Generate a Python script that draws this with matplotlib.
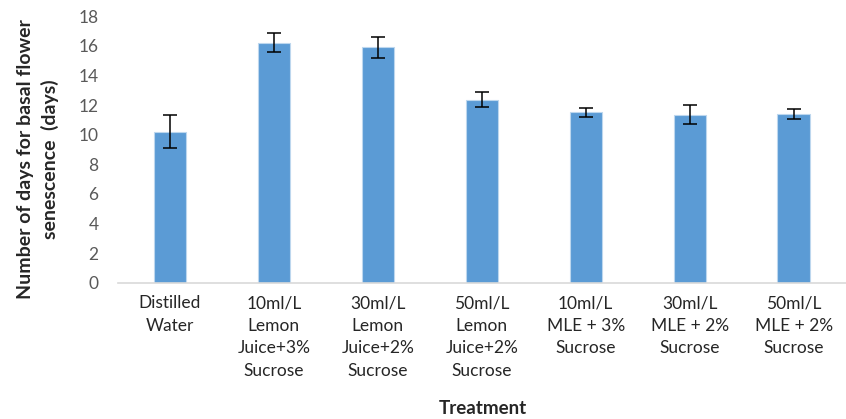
import matplotlib.pyplot as plt
import numpy as np

plt.rcParams['font.family'] = ['Lato', 'DejaVu Sans']

treatments = ["Distilled\nWater",
              "10ml/L\nLemon\nJuice+3%\nSucrose",
              "30ml/L\nLemon\nJuice+2%\nSucrose",
              "50ml/L\nLemon\nJuice+2%\nSucrose",
              "10ml/L\nMLE + 3%\nSucrose",
              "30ml/L\nMLE + 2%\nSucrose",
              "50ml/L\nMLE + 2%\nSucrose"]
days = [10.2, 16.2, 15.9, 12.35, 11.5, 11.35, 11.4]
err = [1.1, 0.65, 0.7, 0.5, 0.3, 0.65, 0.35]

fig = plt.figure(figsize=(8.46, 4.19), dpi=100)
ax = fig.add_axes([0.1395, 0.3246, 0.86, 0.6372])

x = np.arange(len(days))
ax.bar(x, days, width=0.31, color='#5b9bd5', edgecolor='#bdd7ee', linewidth=0.8,
       yerr=err, error_kw=dict(ecolor='black', elinewidth=1.1, capsize=5, capthick=1.1))

ax.set_xlim(-0.5, len(days) - 0.5)
ax.set_ylim(0, 18)
ax.set_yticks(range(0, 19, 2))
ax.set_xticks(x)
ax.set_xticklabels(treatments, fontsize=12.5, linespacing=1.5)
ax.tick_params(axis='y', labelsize=12.5, colors='#595959', length=0, pad=14)
ax.tick_params(axis='x', length=0, pad=9, colors='#262626')

for s in ['top', 'right', 'left']:
    ax.spines[s].set_visible(False)
ax.spines['bottom'].set_color('#d9d9d9')
ax.spines['bottom'].set_linewidth(1.2)

fig.text(0.045, 0.62, "Number of days for basal flower\nsenescence  (days)", rotation=90,
         ha='center', va='center', multialignment='center', fontsize=14,
         fontweight='bold', linespacing=1.45, color='#262626')
fig.text(0.571, 0.026, "Treatment", ha='center', va='center', fontsize=13.5,
         fontweight='bold', color='#262626')

fig.savefig("out.png", dpi=100)
